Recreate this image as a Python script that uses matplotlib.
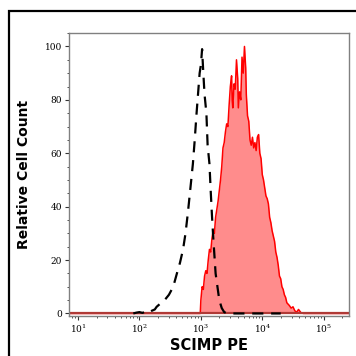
import matplotlib
matplotlib.use('Agg')
import numpy as np
import matplotlib.pyplot as plt
from matplotlib.patches import Rectangle
from matplotlib.ticker import LogLocator, MultipleLocator, NullFormatter

# isotype control histogram (log10 of intensity, relative count)
ctrl_log = [1.90, 1.95, 2.00, 2.05, 2.10, 2.15, 2.20, 2.25, 2.28, 2.33, 2.41, 2.48, 2.55, 2.61,
            2.66, 2.71, 2.75, 2.79, 2.83, 2.87, 2.90, 2.93, 2.96, 2.98, 3.00, 3.01, 3.02, 3.04,
            3.06, 3.09, 3.11, 3.14, 3.16, 3.18, 3.20, 3.22, 3.24, 3.27, 3.30, 3.34, 3.38, 3.43,
            3.55, 3.70, 3.90, 4.10, 4.30]
ctrl_count = [0, 0.3, 0.5, 0.2, 0.8, 0.4, 1.0, 1.5, 2.5, 3.5, 5, 7, 10, 15,
              19, 24, 30, 38, 47, 56, 65, 75, 84, 90, 93, 96, 99, 90,
              82, 75, 63, 56, 46, 37, 29, 22, 15, 10, 5, 2, 0.5, 0,
              0, 0, 0, 0, 0]

# SCIMP PE stained histogram
pe_log = [0.85, 2.99, 3.00, 3.02, 3.04, 3.06, 3.08, 3.10, 3.12, 3.14, 3.16, 3.18, 3.20, 3.22,
          3.24, 3.26, 3.28, 3.30, 3.32, 3.34, 3.36, 3.38, 3.40, 3.42, 3.44, 3.46, 3.48, 3.50,
          3.51, 3.52, 3.54, 3.56, 3.58, 3.60, 3.61, 3.63, 3.65, 3.67, 3.69, 3.71, 3.73, 3.74,
          3.76, 3.78, 3.80, 3.82, 3.84, 3.86, 3.88, 3.90, 3.92, 3.94, 3.96, 3.98, 4.00, 4.02,
          4.04, 4.06, 4.08, 4.10, 4.12, 4.14, 4.16, 4.18, 4.20, 4.22, 4.24, 4.26, 4.28, 4.30,
          4.32, 4.34, 4.36, 4.38, 4.40, 4.42, 4.44, 4.47, 4.50, 4.53, 4.56, 4.59, 4.63, 4.67,
          4.73, 5.41]
pe_count = [0, 0, 5, 10, 9, 14, 16, 15, 20, 24, 23, 28, 31, 30,
            36, 39, 42, 46, 50, 55, 62, 64, 68, 71, 70, 78, 85, 89,
            80, 77, 86, 84, 95, 88, 77, 83, 80, 96, 90, 100, 92, 82,
            74, 72, 65, 63, 66, 62, 64, 61, 66, 67, 60, 58, 52, 50,
            47, 44, 43, 41, 36, 34, 31, 29, 27, 23, 21, 18, 14, 13,
            10, 9, 7, 6, 4, 3.5, 3, 2, 2.5, 1, 0.5, 1.5, 0.3, 0,
            0, 0]

x_min_log, x_max_log = 0.854, 5.41

plt.rcParams['mathtext.fontset'] = 'dejavuserif'

fig = plt.figure(figsize=(3.56, 3.56), dpi=100)
ax = fig.add_axes([0.194, 0.112, 0.786, 0.795])

pe_x = 10 ** np.array(pe_log)
ctrl_x = 10 ** np.array(ctrl_log)

ax.fill_between(pe_x, pe_count, 0, color='#ff8c8c', lw=0, zorder=1)
ax.plot(pe_x, pe_count, color='#ff0000', lw=1.1, zorder=2)
ax.axhline(0, color='#b03a36', lw=1.6, zorder=2)
ax.plot(ctrl_x, ctrl_count, color='black', lw=1.6, ls=(0, (5, 3.5)), zorder=3)

ax.set_xscale('log')
ax.set_xlim(10 ** x_min_log, 10 ** x_max_log)
ax.set_ylim(-1.0, 105)

ax.xaxis.set_major_locator(LogLocator(base=10, numticks=10))
ax.xaxis.set_minor_locator(LogLocator(base=10, subs=np.arange(2, 10), numticks=20))
ax.xaxis.set_minor_formatter(NullFormatter())
ax.yaxis.set_major_locator(MultipleLocator(20))
ax.yaxis.set_minor_locator(MultipleLocator(5))

for side in ['top', 'right', 'left', 'bottom']:
    ax.spines[side].set_color('#808080')
    ax.spines[side].set_linewidth(1.0)

ax.tick_params(which='major', length=3, width=0.8, color='#333333', labelsize=6.5, pad=2)
ax.tick_params(which='minor', length=1.5, width=0.6, color='#333333')
for lbl in ax.get_xticklabels() + ax.get_yticklabels():
    lbl.set_family('DejaVu Serif')

ax.set_xlabel('SCIMP PE', fontsize=10.5, fontweight='bold', family='DejaVu Sans', labelpad=2)
ax.set_ylabel('Relative Cell Count', fontsize=10, fontweight='bold', family='DejaVu Sans', labelpad=10)

# outer frame open on the right and bottom
fig.add_artist(Rectangle((8.5 / 356, -0.2), 1.5, 1 - 11 / 356 + 0.2, transform=fig.transFigure,
                         fill=False, lw=1.6, ec='black'))

fig.savefig('out.png', dpi=100)
